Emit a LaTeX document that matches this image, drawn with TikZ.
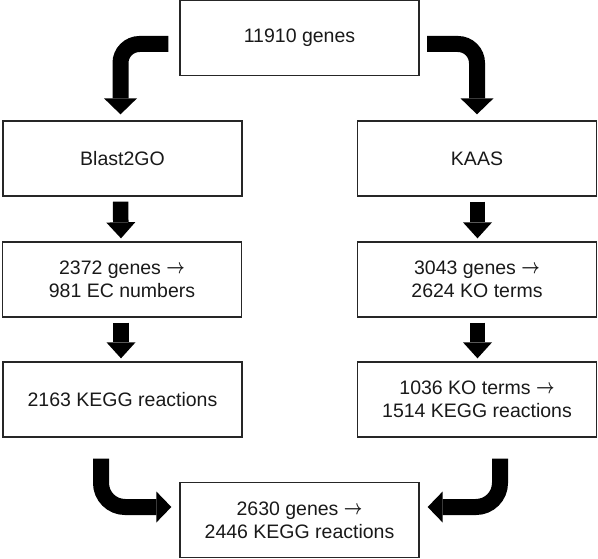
\documentclass[tikz,border=0pt]{standalone}
\usepackage{graphicx}
\usepackage{amsmath}
\usepackage{fontspec}
\setmainfont{Liberation Sans}
\newcommand\myarr{\raisebox{0.8pt}{\scalebox{1}[1.3]{\resizebox{18.5pt}{!}{$\boldsymbol{\rightarrow}$}}}}
\usetikzlibrary{arrows.meta,calc}
\tikzset{
  box/.style={draw=black!85, line width=1.3pt, minimum width=239pt, minimum height=75pt,
    inner sep=0pt, align=center, font=\fontsize{19.5}{23}\selectfont, text=black!90},
  bigarrow/.style={line width=16pt, black,
    -{Triangle[width=33pt 0 0, length=16pt 0 0, line width=0pt]}},
  smallarrow/.style={line width=15.5pt, black,
    -{Triangle[width=29pt 0 0, length=16pt 0 0, line width=0pt]}},
  botarrow/.style={line width=16pt, black,
    -{Triangle[width=31pt 0 0, length=15pt 0 0, line width=0pt]}}
}
\begin{document}
\begin{tikzpicture}[x=1pt, y=-1pt]
\useasboundingbox (0,0) rectangle (598,559);
\node[box] (top)   at (299.5,38)    {11910 genes};
\node[box] (blast) at (122.5,158.5) {Blast2GO};
\node[box] (kaas)  at (477,158.5)   {KAAS};
\node[box] (b2)    at (122,279.5)   {2372 genes \myarr\\981 EC numbers};
\node[box] (k2)    at (477,279.5)   {3043 genes \myarr\\2624 KO terms};
\node[box] (b3)    at (122.5,399.5) {2163 KEGG reactions};
\node[box] (k3)    at (477,399.5)   {1036 KO terms \myarr\\1514 KEGG reactions};
\node[box] (bot)   at (299.5,520)   {2630 genes \myarr\\2446 KEGG reactions};
% curved arrows from top
\draw[bigarrow, rounded corners=19pt] ($(top.west)+(-11,6)$) -| ($(blast.north)+(-2,-6)$);
\draw[bigarrow, rounded corners=19pt] ($(top.east)+(7.5,6)$) -| ($(kaas.north)+(0,-6)$);
% straight arrows
\draw[smallarrow] ($(blast.south)+(-2,5)$) -- ($(b2.north)+(-1,-3)$);
\draw[smallarrow] ($(b2.south)+(-1,5)$) -- ($(b3.north)+(-1.5,-3)$);
\draw[smallarrow] ($(kaas.south)+(0.5,5)$) -- ($(k2.north)+(0.5,-3)$);
\draw[smallarrow] ($(k2.south)+(0.5,5)$) -- ($(k3.north)+(0.5,-3)$);
% curved arrows to bottom
\draw[botarrow, rounded corners=24pt] ($(b3.south)+(-21.5,21)$) |- ($(bot.west)+(-8,-13)$);
\draw[botarrow, rounded corners=24pt] ($(k3.south)+(23,21)$) |- ($(bot.east)+(8,-13)$);
\end{tikzpicture}
\end{document}
